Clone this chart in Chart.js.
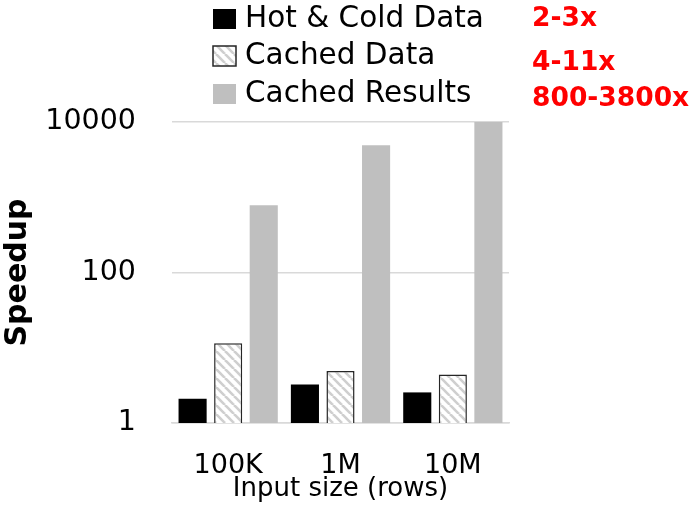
<!DOCTYPE html>
<html>
<head>
<meta charset="utf-8">
<script src="https://cdn.jsdelivr.net/npm/chart.js@4"></script>
<style>
  html, body { margin: 0; padding: 0; background: #fff; }
  #wrap { width: 692px; height: 506px; }
</style>
</head>
<body>
<div id="wrap"><canvas id="speedupChart" width="692" height="506"></canvas></div>
<script>
// chart data
const categories = ["100K", "1M", "10M"];
const hotColdData = [2.1, 3.25, 2.55];
const cachedData = [11.5, 4.9, 4.4];
const cachedResults = [780, 4900, 10000];
const seriesNames = ["Hot & Cold Data", "Cached Data", "Cached Results"];
const speedupNotes = ["2-3x", "4-11x", "800-3800x"];
const yTicks = [1, 100, 10000];

const FONT = "'DejaVu Sans', 'Open Sans', sans-serif";

// diagonal hatch for the "Cached Data" bars
function makeHatch() {
  const c = document.createElement("canvas");
  const s = 9;
  c.width = s;
  c.height = s;
  const g = c.getContext("2d");
  g.fillStyle = "#fff";
  g.fillRect(0, 0, s, s);
  g.strokeStyle = "#cfcfcf";
  g.lineWidth = 2.6;
  for (const off of [-s, 0, s]) {
    g.beginPath();
    g.moveTo(off, 0);
    g.lineTo(off + s, s);
    g.stroke();
  }
  return g.createPattern(c, "repeat");
}
const hatch = makeHatch();

// legend + red speedup notes drawn above the plot
const topLegend = {
  id: "topLegend",
  afterDraw(chart) {
    const ctx = chart.ctx;
    const rows = [19, 56, 94];
    const noteRows = [19, 63, 99];
    ctx.save();
    chart.data.datasets.forEach((ds, i) => {
      const y = rows[i];
      ctx.fillStyle = ds.backgroundColor;
      ctx.fillRect(213, y - 10, 23, 20);
      if (ds.borderWidth) {
        ctx.strokeStyle = ds.borderColor;
        ctx.lineWidth = 1.5;
        ctx.strokeRect(213, y - 10, 23, 20);
      }
      ctx.fillStyle = "#000";
      ctx.font = "29.5px " + FONT;
      ctx.textBaseline = "middle";
      ctx.textAlign = "left";
      ctx.fillText(ds.label, 245, y);
      ctx.fillStyle = "#ff0000";
      ctx.font = "bold 26.5px " + FONT;
      ctx.fillText(speedupNotes[i], 532, noteRows[i]);
    });
    ctx.restore();
  },
};

new Chart(document.getElementById("speedupChart"), {
  type: "bar",
  data: {
    labels: categories,
    datasets: [
      {
        label: seriesNames[0],
        data: hotColdData,
        backgroundColor: "#000000",
        borderWidth: 0,
      },
      {
        label: seriesNames[1],
        data: cachedData,
        backgroundColor: hatch,
        borderColor: "#262626",
        borderWidth: 1.5,
      },
      {
        label: seriesNames[2],
        data: cachedResults,
        backgroundColor: "#bfbfbf",
        borderWidth: 0,
      },
    ],
  },
  options: {
    responsive: false,
    animation: false,
    categoryPercentage: 0.95,
    barPercentage: 0.79,
    layout: { padding: { top: 122, right: 183, left: 0, bottom: 0 } },
    plugins: {
      legend: { display: false },
      tooltip: { enabled: false },
    },
    scales: {
      x: {
        grid: { display: false, drawTicks: false },
        border: { display: true, color: "#d9d9d9", width: 1.5 },
        ticks: { color: "#000", font: { family: FONT, size: 27 }, padding: 27 },
        title: {
          display: true,
          text: "Input size (rows)",
          color: "#000",
          font: { family: FONT, size: 26 },
          padding: { top: -10, bottom: 1 },
        },
        afterFit(scale) {
          scale.height = 83;
        },
      },
      y: {
        type: "logarithmic",
        min: 1,
        max: 10000,
        grid: { color: "#d9d9d9", lineWidth: 1.5, drawTicks: false },
        border: { display: false },
        ticks: {
          color: "#000",
          font: { family: FONT, size: 28.5 },
          padding: 36,
          callback: (v) => String(v),
        },
        afterBuildTicks(scale) {
          scale.ticks = yTicks.map((v) => ({ value: v }));
        },
        title: {
          display: true,
          text: "Speedup",
          color: "#000",
          font: { family: FONT, size: 30, weight: "bold" },
          padding: { top: 0, bottom: 4 },
        },
        afterFit(scale) {
          scale.width = 172;
        },
      },
    },
  },
  plugins: [topLegend],
});
</script>
</body>
</html>
